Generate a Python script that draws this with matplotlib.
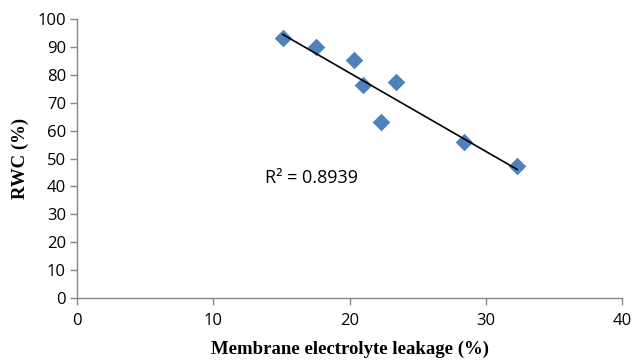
import numpy as np
import matplotlib
matplotlib.use("Agg")
import matplotlib.pyplot as plt

leakage = [15.1, 17.5, 20.3, 21.0, 23.4, 22.3, 28.4, 32.3]
rwc = [93.2, 90.0, 85.4, 76.3, 77.5, 63.2, 55.8, 47.2]
x_ticks = [0, 10, 20, 30, 40]
y_ticks = [0, 10, 20, 30, 40, 50, 60, 70, 80, 90, 100]

x = np.array(leakage)
y = np.array(rwc)
slope, intercept = np.polyfit(x, y, 1)

fig = plt.figure(figsize=(6.42, 3.61), dpi=100)
ax = fig.add_axes([0.12, 0.1745, 0.849, 0.7725])

ax.scatter(x, y, marker='D', s=80, color='#4F81BD', zorder=3, linewidths=0)
xs = np.array([x.min(), x.max()])
ax.plot(xs, slope * xs + intercept, color='black', linewidth=1.2, zorder=4)

ax.text(13.8, 43, "R² = 0.8939", fontsize=13, family='Open Sans', va='center')

ax.set_xlim(0, 40)
ax.set_ylim(0, 100)
ax.set_xticks(x_ticks)
ax.set_yticks(y_ticks)
for s in ['top', 'right']:
    ax.spines[s].set_visible(False)
for s in ['left', 'bottom']:
    ax.spines[s].set_color('#868686')
    ax.spines[s].set_linewidth(1)
ax.tick_params(direction='out', color='#868686', length=5, width=1, labelsize=12, pad=3)
ax.tick_params(axis='x', pad=6)
for lab in ax.get_xticklabels() + ax.get_yticklabels():
    lab.set_family('Open Sans')

ax.set_xlabel("Membrane electrolyte leakage (%)", family='Liberation Serif', fontweight='bold', fontsize=13.5, labelpad=8)
ax.set_ylabel("RWC (%)", family='Liberation Serif', fontweight='bold', fontsize=13.5, labelpad=6)

fig.savefig("out.png", dpi=100)
